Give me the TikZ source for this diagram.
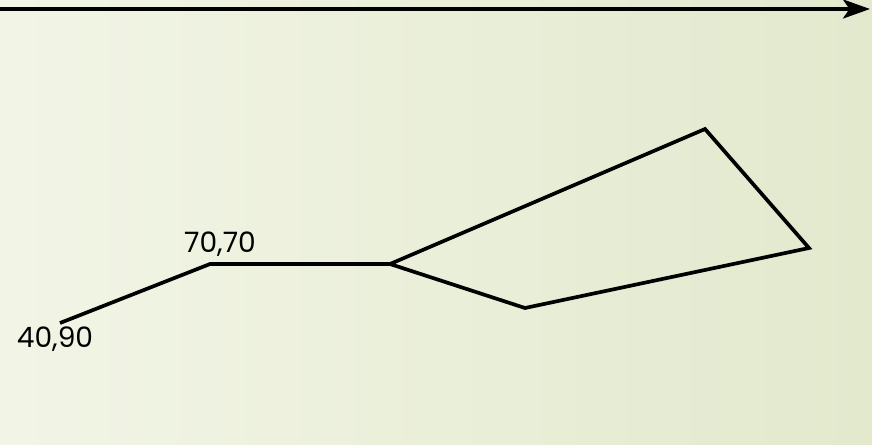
\documentclass[tikz,border=0pt]{standalone}
\usepackage{fontspec}
\setmainfont{Poppins}
\usetikzlibrary{arrows.meta}

\definecolor{bgleft}{RGB}{242,245,230}
\definecolor{bgright}{RGB}{226,233,205}

\begin{document}
\begin{tikzpicture}[x=0.02cm, y=-0.02cm,
    edge/.style={line width=2.1pt, line join=miter},
    lbl/.style={inner sep=0pt, font=\fontsize{16}{19}\selectfont}]
    % background
    \useasboundingbox (0,0) rectangle (872,444);
    \shade[left color=bgleft, right color=bgright] (0,0) rectangle (872,444);

    % axis
    \coordinate (ax start) at (0,9);
    \coordinate (ax end) at (870,9);
    \draw [line width=2.2pt, -{Stealth[length=0.54cm, width=0.38cm, inset=0.13cm]}] (ax start) -- (ax end);

    % points
    \coordinate (p1) at (60,323);
    \coordinate (p2) at (210,264);
    \coordinate (p3) at (390,264);
    \coordinate (p4) at (705,129);
    \coordinate (p5) at (809,248);
    \coordinate (p6) at (525,308);

    % labels
    \node[lbl] (p1 label) at (55,339) {40,90};
    \node[lbl] (p2 label) at (220,244) {70,70};

    % polyline
    \draw [edge] (p1) -- (p2) -- (p3) -- (p4) -- (p5) -- (p6) -- (p3);
\end{tikzpicture}
\end{document}
